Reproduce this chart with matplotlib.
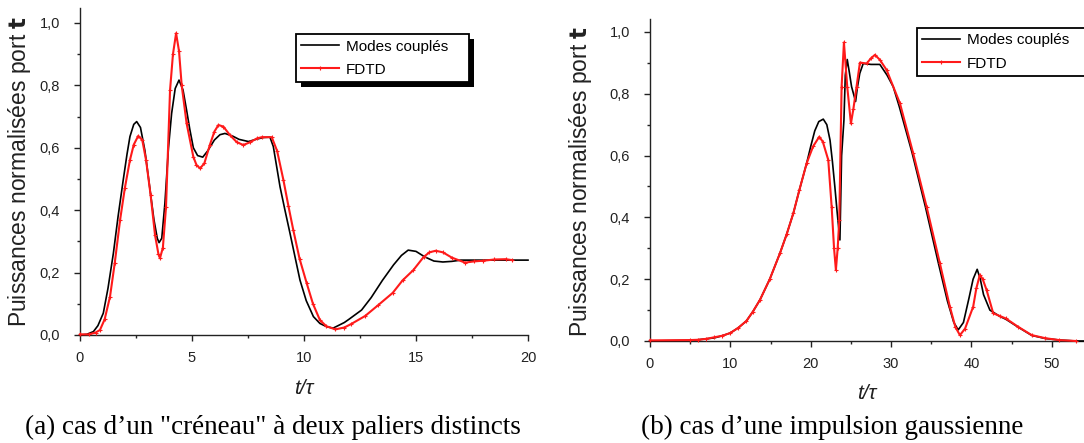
import matplotlib
matplotlib.use("Agg")
import matplotlib.pyplot as plt
from matplotlib.patches import Rectangle
from matplotlib.transforms import IdentityTransform
from matplotlib.ticker import MultipleLocator, FuncFormatter

plt.rcParams['font.family'] = ['Liberation Sans', 'DejaVu Sans']
plt.rcParams['mathtext.fontset'] = 'custom'
plt.rcParams['mathtext.rm'] = 'Liberation Sans'
plt.rcParams['mathtext.bf'] = 'DejaVu Sans:bold'

# (a) "creneau" a deux paliers
a_t_modes = [0, 0.3, 0.6, 0.8, 1.04, 1.25, 1.49, 1.7, 1.93, 2.1, 2.23, 2.4, 2.53, 2.7, 2.9,
             3.1, 3.3, 3.45, 3.53, 3.65, 3.79, 3.95, 4.09, 4.25, 4.42, 4.6, 4.76, 4.9, 5.06,
             5.25, 5.48, 5.7, 6.0, 6.25, 6.47, 6.8, 7.1, 7.52, 7.9, 8.2, 8.48, 8.63, 8.93,
             9.15, 9.375, 9.6, 9.82, 10.1, 10.42, 10.71, 11.0, 11.3, 11.8, 12.0, 12.57, 13.0,
             13.5, 14.0, 14.35, 14.65, 15.0, 15.4, 15.8, 16.2, 16.6, 17.0, 18.0, 19.0, 20.0]
a_p_modes = [0, 0.002, 0.011, 0.03, 0.07, 0.15, 0.262, 0.38, 0.497, 0.58, 0.636, 0.675, 0.684,
             0.665, 0.59, 0.48, 0.37, 0.31, 0.296, 0.31, 0.422, 0.6, 0.71, 0.79, 0.817, 0.785,
             0.72, 0.66, 0.6, 0.575, 0.57, 0.59, 0.625, 0.642, 0.646, 0.638, 0.627, 0.62,
             0.628, 0.633, 0.634, 0.604, 0.475, 0.4, 0.326, 0.25, 0.176, 0.11, 0.059, 0.037,
             0.027, 0.022, 0.04, 0.05, 0.08, 0.12, 0.175, 0.225, 0.255, 0.272, 0.268, 0.25,
             0.237, 0.234, 0.236, 0.24, 0.24, 0.24, 0.24]
a_t_fdtd = [0, 0.4, 0.7, 0.89, 1.1, 1.34, 1.55, 1.79, 2.0, 2.23, 2.4, 2.6, 2.78, 2.95, 3.15,
            3.35, 3.5, 3.57, 3.7, 3.84, 4.02, 4.15, 4.29, 4.42, 4.54, 4.76, 5.06, 5.2, 5.36,
            5.55, 5.8, 6.0, 6.18, 6.4, 6.7, 7.0, 7.29, 7.6, 7.9, 8.11, 8.56, 8.8, 9.08, 9.3,
            9.52, 9.8, 10.12, 10.4, 10.71, 11.0, 11.4, 11.8, 12.1, 12.73, 13.3, 13.96, 14.4,
            14.88, 15.34, 15.6, 15.88, 16.2, 16.6, 17.19, 17.6, 18.0, 18.5, 19.0, 19.3]
a_p_fdtd = [0.002, 0.002, 0.008, 0.016, 0.05, 0.123, 0.23, 0.369, 0.47, 0.561, 0.61, 0.638,
            0.625, 0.56, 0.45, 0.32, 0.26, 0.246, 0.28, 0.41, 0.785, 0.9, 0.967, 0.91, 0.8,
            0.678, 0.571, 0.545, 0.534, 0.55, 0.61, 0.652, 0.673, 0.668, 0.64, 0.618, 0.609,
            0.618, 0.63, 0.634, 0.634, 0.59, 0.497, 0.415, 0.337, 0.245, 0.166, 0.1, 0.048,
            0.028, 0.018, 0.024, 0.035, 0.061, 0.095, 0.135, 0.175, 0.208, 0.25, 0.265, 0.27,
            0.265, 0.248, 0.232, 0.236, 0.238, 0.242, 0.243, 0.24]

# (b) impulsion gaussienne
b_t_modes = [0, 5, 6, 7, 8, 9, 10, 11, 12, 12.8, 13.68, 14.9, 16.17, 17.0, 17.83, 18.6, 19.49,
             20.0, 20.5, 21.0, 21.56, 22.0, 22.4, 22.7, 23.0, 23.3, 23.63, 23.84, 24.13, 24.3,
             24.54, 24.8, 25.08, 25.58, 25.8, 26.1, 26.53, 27.5, 28.6, 29.5, 30.26, 31.0, 32.6,
             34.26, 35.9, 37.0, 37.8, 38.35, 39.0, 39.7, 40.2, 40.71, 41.1, 41.5, 42.29, 43.5,
             44.3, 45.8, 47.5, 49.2, 51.0, 53.0, 55.0]
b_p_modes = [0, 0.002, 0.004, 0.007, 0.01, 0.017, 0.026, 0.043, 0.065, 0.095, 0.133, 0.2, 0.284,
             0.345, 0.413, 0.49, 0.575, 0.63, 0.68, 0.71, 0.718, 0.7, 0.65, 0.58, 0.499, 0.413,
             0.327, 0.6, 0.715, 0.86, 0.911, 0.87, 0.823, 0.775, 0.82, 0.866, 0.898, 0.895,
             0.895, 0.86, 0.823, 0.76, 0.61, 0.435, 0.25, 0.13, 0.06, 0.036, 0.06, 0.14, 0.2,
             0.232, 0.2, 0.15, 0.1, 0.08, 0.07, 0.045, 0.018, 0.008, 0.003, 0.0, 0.0]
b_t_fdtd = [0, 5, 6, 7, 8, 9, 10, 11, 12, 12.8, 13.68, 14.9, 16.17, 17.0, 17.83, 18.6, 19.49,
            20.3, 21.06, 21.5, 22.18, 22.6, 22.9, 23.13, 23.35, 23.55, 23.84, 24.13, 24.54,
            25.0, 25.3, 25.7, 26.12, 26.95, 27.5, 27.99, 28.6, 29.44, 31.1, 32.75, 34.41,
            36.07, 37.31, 38.0, 38.56, 39.2, 40.21, 40.6, 41.04, 41.4, 41.88, 42.7, 43.5,
            44.27, 45.8, 47.5, 49.2, 50.9, 53.0]
b_p_fdtd = [0.002, 0.003, 0.004, 0.007, 0.012, 0.017, 0.026, 0.043, 0.065, 0.095, 0.133, 0.2,
            0.284, 0.345, 0.413, 0.49, 0.575, 0.63, 0.661, 0.645, 0.586, 0.435, 0.3, 0.23, 0.3,
            0.39, 0.823, 0.966, 0.823, 0.704, 0.75, 0.823, 0.901, 0.898, 0.915, 0.926, 0.91,
            0.877, 0.769, 0.607, 0.435, 0.251, 0.111, 0.045, 0.019, 0.04, 0.111, 0.17, 0.214,
            0.2, 0.165, 0.09, 0.081, 0.073, 0.046, 0.019, 0.009, 0.003, 0.0]

labels = ['Modes couplés', 'FDTD']
ylab = 'Puissances normalisées port $\\mathbf{t}$'
captions = ['(a) cas d\u2019un "créneau" à deux paliers distincts',
            '(b) cas d\u2019une impulsion gaussienne']

fig = plt.figure(figsize=(10.84, 4.43), dpi=100)
ax1 = fig.add_axes([80 / 1084, 108 / 443, 448 / 1084, 327 / 443])
ax2 = fig.add_axes([650 / 1084, 102 / 443, 434 / 1084, 322 / 443])

comma = FuncFormatter(lambda v, p: ('%.1f' % v).replace('.', ','))


def style(ax, xmaj, xmin, xmax, ytop):
    ax.set_xlim(0, xmax)
    ax.set_ylim(0, ytop)
    ax.xaxis.set_major_locator(MultipleLocator(xmaj))
    ax.xaxis.set_minor_locator(MultipleLocator(xmin))
    ax.yaxis.set_major_locator(MultipleLocator(0.2))
    ax.yaxis.set_minor_locator(MultipleLocator(0.1))
    ax.yaxis.set_major_formatter(comma)
    for s in ['top', 'right']:
        ax.spines[s].set_visible(False)
    for s in ['left', 'bottom']:
        ax.spines[s].set_linewidth(1.0)
        ax.spines[s].set_color('#222222')
    ax.tick_params(which='major', direction='out', length=4.5, width=1.0, labelsize=10.5,
                   color='#222222', labelcolor='#222222')
    ax.tick_params(which='minor', direction='out', length=2.5, width=1.0, color='#222222')
    ax.tick_params(axis='y', which='major', pad=10)
    ax.tick_params(axis='x', which='major', pad=7)
    ax.set_xlabel('t/τ', fontsize=15, style='italic', color='#222222')
    ax.set_ylabel(ylab, fontsize=16.5, color='#222222')


style(ax1, 5, 2.5, 20, 1.048)
style(ax2, 10, 5, 54, 1.042)

for ax, tm, pm, tf, pf in [(ax1, a_t_modes, a_p_modes, a_t_fdtd, a_p_fdtd),
                           (ax2, b_t_modes, b_p_modes, b_t_fdtd, b_p_fdtd)]:
    ax.plot(tm, pm, color='black', lw=1.2, label=labels[0], clip_on=False, zorder=3)
    ax.plot(tf, pf, color='#ff1a1a', lw=1.5, marker='+', ms=3.5, mew=0.8,
            label=labels[1], clip_on=False, zorder=4)

ax1.yaxis.set_label_coords(-0.104, 0.5)
ax2.yaxis.set_label_coords(-0.13, 0.497)
ax1.xaxis.set_label_coords(0.5, -0.135)
ax2.xaxis.set_label_coords(0.5, -0.135)

leg_kw = dict(loc='upper left', fontsize=11, handlelength=2.5, handletextpad=0.4,
              borderaxespad=0, borderpad=0.35, labelspacing=0.6, fancybox=False,
              framealpha=1, edgecolor='black', numpoints=1, mode='expand')
leg1 = ax1.legend(bbox_to_anchor=(0.482, 0.5, 0.386, 0.42), **leg_kw)
leg2 = ax2.legend(bbox_to_anchor=(0.615, 0.5, 0.46, 0.472), **leg_kw)
for leg in (leg1, leg2):
    leg.get_frame().set_linewidth(1.3)
    leg.set_zorder(6)

fig.text(273 / 1084, 1 - 427 / 443, captions[0], family='Liberation Serif', fontsize=19.5,
         ha='center', va='center')
fig.text(832 / 1084, 1 - 427 / 443, captions[1], family='Liberation Serif', fontsize=19.5,
         ha='center', va='center')

# black drop shadow behind the left legend
fig.canvas.draw()
bb = leg1.get_window_extent()
shadow = Rectangle((bb.x0 + 5, bb.y0 - 5), bb.width, bb.height, transform=IdentityTransform(),
                   facecolor='black', edgecolor='none', zorder=5.5, clip_on=False)
ax1.add_artist(shadow)

fig.savefig('out.png', dpi=100)
